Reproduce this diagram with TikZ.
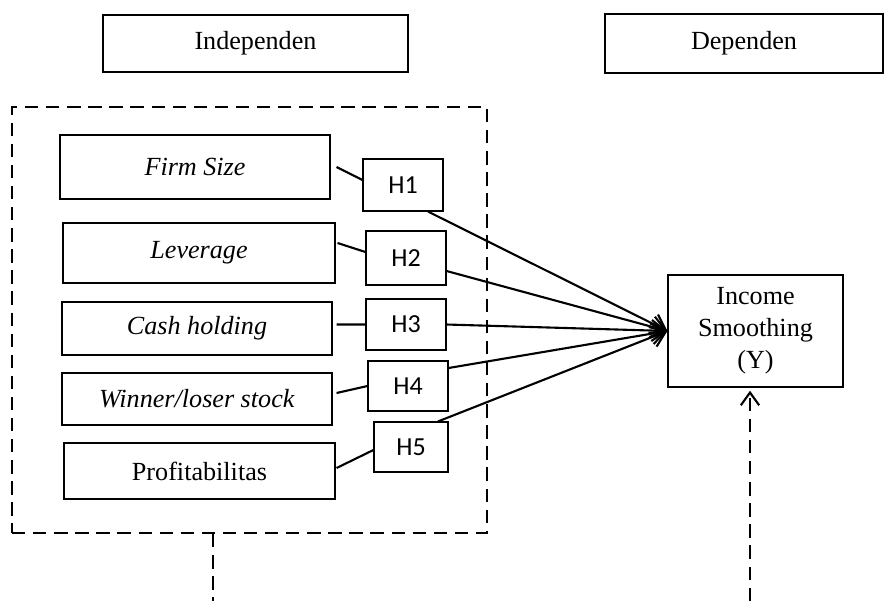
\documentclass[tikz,border=0pt]{standalone}
\usepackage{fontspec}
\setmainfont{Liberation Serif}
\newfontfamily\hfont{Carlito}
\usetikzlibrary{arrows.meta}

\begin{document}
\begin{tikzpicture}[
    varbox/.style={draw, line width=0.8pt, inner sep=0pt, font=\fontsize{18.6}{22.7}\selectfont},
    hbox/.style={draw, line width=0.8pt, inner sep=0pt, minimum width=2cm, font=\hfont\fontsize{18.5}{21}\selectfont},
    dashln/.style={line width=1.5pt, dash pattern=on 9.5pt off 5.5pt},
    link/.style={line width=1.5pt},
    arr/.style={line width=1.5pt, -{Straight Barb[length=10pt,width=15pt]}}
]
    \useasboundingbox (0,0) rectangle (22.125,-15.025);

    % headings
    \node[varbox, minimum width=7.625cm, minimum height=1.425cm] (ind) at (6.3875,-1.0875) {Independen};
    \node[varbox, minimum width=6.95cm, minimum height=1.475cm] (dep) at (18.6,-1.0875) {Dependen};

    % group of independent variables
    \node[draw, dashln, inner sep=0pt, minimum width=11.875cm, minimum height=10.65cm] (grp) at (6.2375,-8) {};

    \node[varbox, minimum width=6.75cm, minimum height=1.6cm] (fs) at (4.875,-4.175) {\textit{Firm Size}};
    \node[varbox, minimum width=6.8cm, minimum height=1.5cm] (lv) at (4.975,-6.325) {\textit{Leverage}};
    \node[varbox, minimum width=6.75cm, minimum height=1.325cm] (ch) at (4.925,-8.2125) {\textit{Cash holding}};
    \node[varbox, minimum width=6.75cm, minimum height=1.3cm] (wl) at (4.925,-9.975) {\textit{Winner/loser stock}};
    \node[varbox, minimum width=6.775cm, minimum height=1.4cm] (pr) at (4.9875,-11.775) {Profitabilitas};

    \node[hbox, minimum height=1.3cm] (h1) at (10.075,-4.625) {H1};
    \node[hbox, minimum height=1.35cm] (h2) at (10.15,-6.45) {H2};
    \node[hbox, minimum height=1.275cm] (h3) at (10.15,-8.1125) {H3};
    \node[hbox, minimum height=1.25cm] (h4) at (10.2,-9.65) {H4};
    \node[hbox, minimum width=1.85cm, minimum height=1.25cm] (h5) at (10.275,-11.175) {H5};

    % dependent variable
    \node[varbox, align=center, minimum width=4.375cm, minimum height=2.8cm] (ys) at (18.8875,-8.275) {Income\\Smoothing\\(Y)};

    \draw[link] ([xshift=0.15cm]fs.east) -- ([yshift=0.125cm]h1.west);
    \draw[link] ([shift={(0.05,0.25)}]lv.east) -- ([yshift=0.15cm]h2.west);
    \draw[link] ([shift={(0.1,0.1)}]ch.east) -- (h3.west);
    \draw[link] ([shift={(0.1,0.15)}]wl.east) -- (h4.west);
    \draw[link] ([shift={(0.025,0.075)}]pr.east) -- ([yshift=-0.075cm]h5.west);

    \draw[arr] ([xshift=0.625cm]h1.south) -- (ys.west);
    \draw[arr] ([yshift=-0.325cm]h2.east) -- (ys.west);
    \draw[arr] (h3.east) -- (ys.west);
    \draw[arr] ([yshift=0.45cm]h4.east) -- (ys.west);
    \draw[arr] ([xshift=0.675cm]h5.north) -- (ys.west);

    % dashed links at the bottom
    \coordinate (gout) at (5.325,-15.025);
    \coordinate (yin) at (18.75,-15.025);
    \draw[dashln] (grp.south -| gout) -- (gout);
    \draw[dashln, -{Straight Barb[length=9pt,width=13pt]}] (yin) -- ([shift={(-0.1375,-0.08)}]ys.south);
\end{tikzpicture}
\end{document}
